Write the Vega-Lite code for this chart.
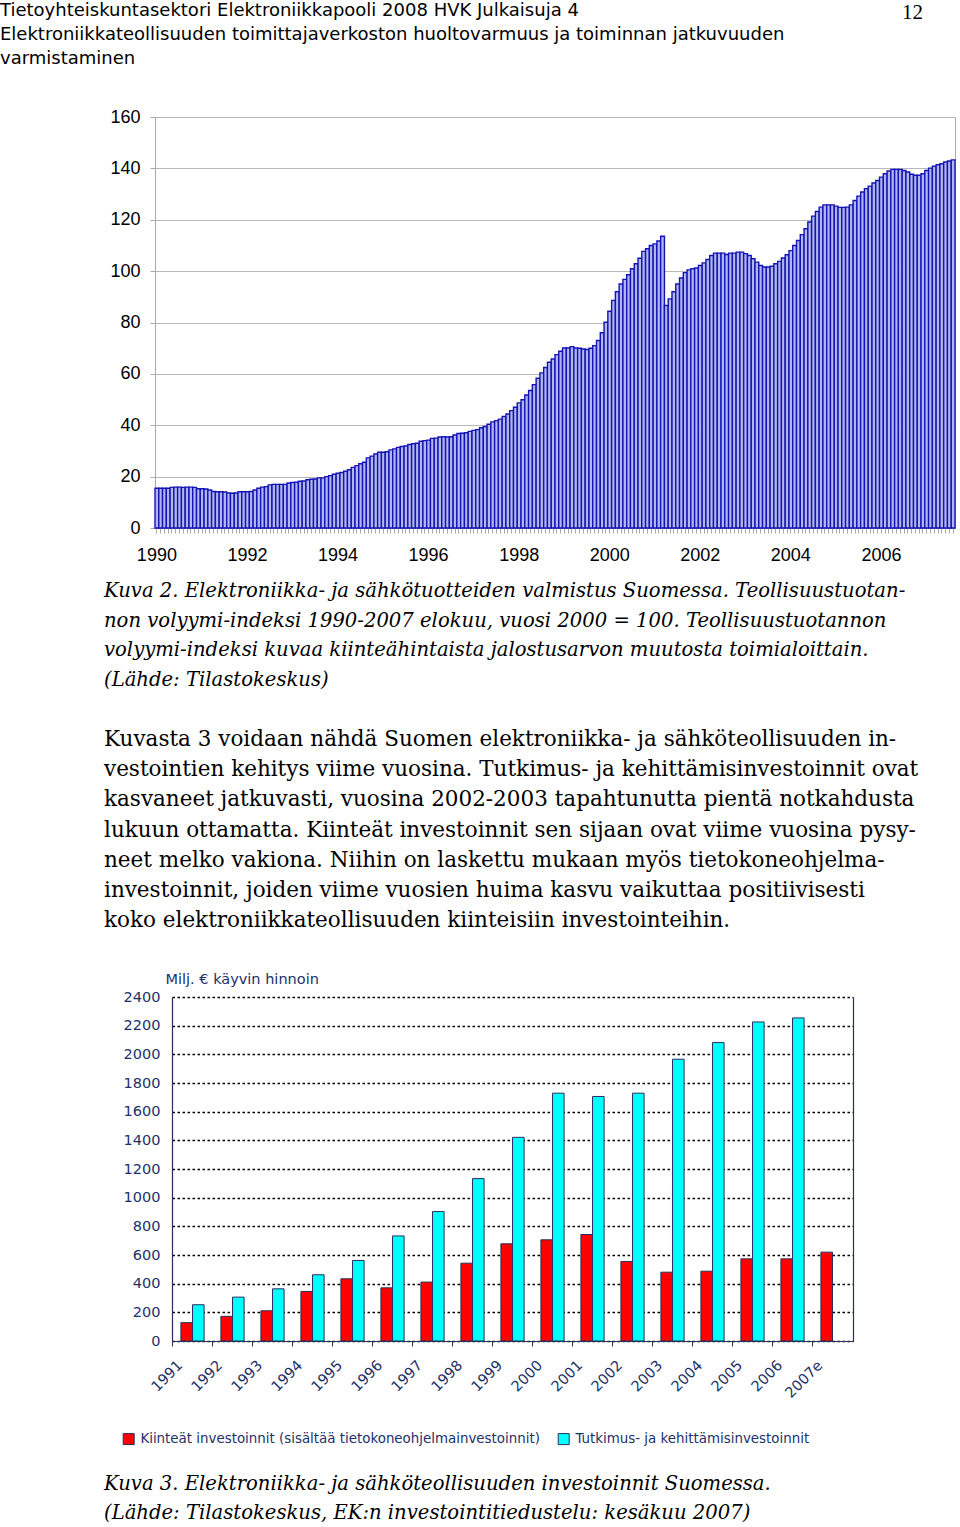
{
  "$schema": "https://vega.github.io/schema/vega-lite/v6.json",
  "padding": 0,
  "background": "white",
  "spacing": 38,
  "config": {"view": {"stroke": null}, "font": "Liberation Sans"},
  "resolve": {"legend": {"color": "independent"}, "scale": {"color": "independent"}},
  "datasets": {
    "indeksi": [
      {"kk":"1990-01","arvo":15.5},{"kk":"1990-02","arvo":15.5},{"kk":"1990-03","arvo":15.5},{"kk":"1990-04","arvo":15.5},{"kk":"1990-05","arvo":15.8},{"kk":"1990-06","arvo":15.9},{"kk":"1990-07","arvo":15.9},{"kk":"1990-08","arvo":15.8},{"kk":"1990-09","arvo":15.9},{"kk":"1990-10","arvo":15.9},{"kk":"1990-11","arvo":15.8},{"kk":"1990-12","arvo":15.3},
      {"kk":"1991-01","arvo":15.3},{"kk":"1991-02","arvo":15.2},{"kk":"1991-03","arvo":14.8},{"kk":"1991-04","arvo":14.2},{"kk":"1991-05","arvo":14.1},{"kk":"1991-06","arvo":14.1},{"kk":"1991-07","arvo":14.0},{"kk":"1991-08","arvo":13.6},{"kk":"1991-09","arvo":13.5},{"kk":"1991-10","arvo":13.6},{"kk":"1991-11","arvo":14.1},{"kk":"1991-12","arvo":14.1},
      {"kk":"1992-01","arvo":14.1},{"kk":"1992-02","arvo":14.2},{"kk":"1992-03","arvo":14.8},{"kk":"1992-04","arvo":15.5},{"kk":"1992-05","arvo":15.9},{"kk":"1992-06","arvo":16.1},{"kk":"1992-07","arvo":16.8},{"kk":"1992-08","arvo":17.0},{"kk":"1992-09","arvo":17.0},{"kk":"1992-10","arvo":17.0},{"kk":"1992-11","arvo":17.0},{"kk":"1992-12","arvo":17.5},
      {"kk":"1993-01","arvo":17.7},{"kk":"1993-02","arvo":17.8},{"kk":"1993-03","arvo":18.2},{"kk":"1993-04","arvo":18.3},{"kk":"1993-05","arvo":18.8},{"kk":"1993-06","arvo":19.0},{"kk":"1993-07","arvo":19.1},{"kk":"1993-08","arvo":19.5},{"kk":"1993-09","arvo":19.5},{"kk":"1993-10","arvo":20.0},{"kk":"1993-11","arvo":20.4},{"kk":"1993-12","arvo":20.9},
      {"kk":"1994-01","arvo":21.3},{"kk":"1994-02","arvo":21.6},{"kk":"1994-03","arvo":22.1},{"kk":"1994-04","arvo":22.7},{"kk":"1994-05","arvo":23.6},{"kk":"1994-06","arvo":24.3},{"kk":"1994-07","arvo":25.0},{"kk":"1994-08","arvo":25.6},{"kk":"1994-09","arvo":27.3},{"kk":"1994-10","arvo":28.0},{"kk":"1994-11","arvo":28.8},{"kk":"1994-12","arvo":29.5},
      {"kk":"1995-01","arvo":29.5},{"kk":"1995-02","arvo":29.7},{"kk":"1995-03","arvo":30.4},{"kk":"1995-04","arvo":30.8},{"kk":"1995-05","arvo":31.4},{"kk":"1995-06","arvo":31.7},{"kk":"1995-07","arvo":31.9},{"kk":"1995-08","arvo":32.5},{"kk":"1995-09","arvo":32.8},{"kk":"1995-10","arvo":33.0},{"kk":"1995-11","arvo":33.8},{"kk":"1995-12","arvo":34.0},
      {"kk":"1996-01","arvo":34.2},{"kk":"1996-02","arvo":34.9},{"kk":"1996-03","arvo":35.0},{"kk":"1996-04","arvo":35.4},{"kk":"1996-05","arvo":35.5},{"kk":"1996-06","arvo":35.4},{"kk":"1996-07","arvo":35.5},{"kk":"1996-08","arvo":36.2},{"kk":"1996-09","arvo":36.8},{"kk":"1996-10","arvo":36.9},{"kk":"1996-11","arvo":37.1},{"kk":"1996-12","arvo":37.6},
      {"kk":"1997-01","arvo":38.0},{"kk":"1997-02","arvo":38.3},{"kk":"1997-03","arvo":39.0},{"kk":"1997-04","arvo":39.5},{"kk":"1997-05","arvo":40.4},{"kk":"1997-06","arvo":41.3},{"kk":"1997-07","arvo":41.8},{"kk":"1997-08","arvo":42.4},{"kk":"1997-09","arvo":43.4},{"kk":"1997-10","arvo":44.4},{"kk":"1997-11","arvo":45.7},{"kk":"1997-12","arvo":47.0},
      {"kk":"1998-01","arvo":48.7},{"kk":"1998-02","arvo":49.9},{"kk":"1998-03","arvo":51.8},{"kk":"1998-04","arvo":53.5},{"kk":"1998-05","arvo":55.8},{"kk":"1998-06","arvo":58.3},{"kk":"1998-07","arvo":60.4},{"kk":"1998-08","arvo":62.5},{"kk":"1998-09","arvo":64.5},{"kk":"1998-10","arvo":65.8},{"kk":"1998-11","arvo":67.5},{"kk":"1998-12","arvo":68.8},
      {"kk":"1999-01","arvo":70.1},{"kk":"1999-02","arvo":70.1},{"kk":"1999-03","arvo":70.6},{"kk":"1999-04","arvo":70.1},{"kk":"1999-05","arvo":70.0},{"kk":"1999-06","arvo":69.7},{"kk":"1999-07","arvo":69.5},{"kk":"1999-08","arvo":70.0},{"kk":"1999-09","arvo":71.0},{"kk":"1999-10","arvo":73.0},{"kk":"1999-11","arvo":76.0},{"kk":"1999-12","arvo":80.1},
      {"kk":"2000-01","arvo":84.4},{"kk":"2000-02","arvo":88.6},{"kk":"2000-03","arvo":92.0},{"kk":"2000-04","arvo":95.0},{"kk":"2000-05","arvo":96.8},{"kk":"2000-06","arvo":98.6},{"kk":"2000-07","arvo":100.9},{"kk":"2000-08","arvo":102.9},{"kk":"2000-09","arvo":105.0},{"kk":"2000-10","arvo":107.7},{"kk":"2000-11","arvo":108.7},{"kk":"2000-12","arvo":110.0},
      {"kk":"2001-01","arvo":110.6},{"kk":"2001-02","arvo":111.7},{"kk":"2001-03","arvo":113.6},{"kk":"2001-04","arvo":86.6},{"kk":"2001-05","arvo":89.2},{"kk":"2001-06","arvo":92.0},{"kk":"2001-07","arvo":95.0},{"kk":"2001-08","arvo":97.3},{"kk":"2001-09","arvo":99.4},{"kk":"2001-10","arvo":100.5},{"kk":"2001-11","arvo":100.9},{"kk":"2001-12","arvo":101.2},
      {"kk":"2002-01","arvo":102.2},{"kk":"2002-02","arvo":103.2},{"kk":"2002-03","arvo":104.5},{"kk":"2002-04","arvo":106.1},{"kk":"2002-05","arvo":107.0},{"kk":"2002-06","arvo":107.0},{"kk":"2002-07","arvo":107.0},{"kk":"2002-08","arvo":106.5},{"kk":"2002-09","arvo":107.0},{"kk":"2002-10","arvo":107.0},{"kk":"2002-11","arvo":107.4},{"kk":"2002-12","arvo":107.4},
      {"kk":"2003-01","arvo":106.8},{"kk":"2003-02","arvo":106.1},{"kk":"2003-03","arvo":104.8},{"kk":"2003-04","arvo":103.5},{"kk":"2003-05","arvo":102.2},{"kk":"2003-06","arvo":101.6},{"kk":"2003-07","arvo":101.6},{"kk":"2003-08","arvo":101.9},{"kk":"2003-09","arvo":102.9},{"kk":"2003-10","arvo":103.8},{"kk":"2003-11","arvo":105.1},{"kk":"2003-12","arvo":106.4},
      {"kk":"2004-01","arvo":108.0},{"kk":"2004-02","arvo":110.0},{"kk":"2004-03","arvo":111.9},{"kk":"2004-04","arvo":114.2},{"kk":"2004-05","arvo":116.5},{"kk":"2004-06","arvo":119.1},{"kk":"2004-07","arvo":121.4},{"kk":"2004-08","arvo":123.2},{"kk":"2004-09","arvo":124.9},{"kk":"2004-10","arvo":125.8},{"kk":"2004-11","arvo":125.8},{"kk":"2004-12","arvo":125.8},
      {"kk":"2005-01","arvo":125.3},{"kk":"2005-02","arvo":124.8},{"kk":"2005-03","arvo":124.8},{"kk":"2005-04","arvo":124.9},{"kk":"2005-05","arvo":125.8},{"kk":"2005-06","arvo":127.5},{"kk":"2005-07","arvo":129.2},{"kk":"2005-08","arvo":130.8},{"kk":"2005-09","arvo":132.1},{"kk":"2005-10","arvo":133.1},{"kk":"2005-11","arvo":134.3},{"kk":"2005-12","arvo":135.3},
      {"kk":"2006-01","arvo":136.6},{"kk":"2006-02","arvo":137.9},{"kk":"2006-03","arvo":139.0},{"kk":"2006-04","arvo":139.6},{"kk":"2006-05","arvo":139.6},{"kk":"2006-06","arvo":139.6},{"kk":"2006-07","arvo":139.2},{"kk":"2006-08","arvo":138.6},{"kk":"2006-09","arvo":137.7},{"kk":"2006-10","arvo":137.3},{"kk":"2006-11","arvo":137.3},{"kk":"2006-12","arvo":137.9},
      {"kk":"2007-01","arvo":139.2},{"kk":"2007-02","arvo":140.1},{"kk":"2007-03","arvo":140.8},{"kk":"2007-04","arvo":141.4},{"kk":"2007-05","arvo":141.8},{"kk":"2007-06","arvo":142.5},{"kk":"2007-07","arvo":142.9},{"kk":"2007-08","arvo":143.3}
    ],
    "investoinnit": [
      {"vuosi":"1991","sarja":"Kiinteät investoinnit (sisältää tietokoneohjelmainvestoinnit)","arvo":128},
      {"vuosi":"1992","sarja":"Kiinteät investoinnit (sisältää tietokoneohjelmainvestoinnit)","arvo":172},
      {"vuosi":"1993","sarja":"Kiinteät investoinnit (sisältää tietokoneohjelmainvestoinnit)","arvo":211},
      {"vuosi":"1994","sarja":"Kiinteät investoinnit (sisältää tietokoneohjelmainvestoinnit)","arvo":346},
      {"vuosi":"1995","sarja":"Kiinteät investoinnit (sisältää tietokoneohjelmainvestoinnit)","arvo":434},
      {"vuosi":"1996","sarja":"Kiinteät investoinnit (sisältää tietokoneohjelmainvestoinnit)","arvo":371},
      {"vuosi":"1997","sarja":"Kiinteät investoinnit (sisältää tietokoneohjelmainvestoinnit)","arvo":411},
      {"vuosi":"1998","sarja":"Kiinteät investoinnit (sisältää tietokoneohjelmainvestoinnit)","arvo":543},
      {"vuosi":"1999","sarja":"Kiinteät investoinnit (sisältää tietokoneohjelmainvestoinnit)","arvo":678},
      {"vuosi":"2000","sarja":"Kiinteät investoinnit (sisältää tietokoneohjelmainvestoinnit)","arvo":706},
      {"vuosi":"2001","sarja":"Kiinteät investoinnit (sisältää tietokoneohjelmainvestoinnit)","arvo":743},
      {"vuosi":"2002","sarja":"Kiinteät investoinnit (sisältää tietokoneohjelmainvestoinnit)","arvo":555},
      {"vuosi":"2003","sarja":"Kiinteät investoinnit (sisältää tietokoneohjelmainvestoinnit)","arvo":480},
      {"vuosi":"2004","sarja":"Kiinteät investoinnit (sisältää tietokoneohjelmainvestoinnit)","arvo":487},
      {"vuosi":"2005","sarja":"Kiinteät investoinnit (sisältää tietokoneohjelmainvestoinnit)","arvo":573},
      {"vuosi":"2006","sarja":"Kiinteät investoinnit (sisältää tietokoneohjelmainvestoinnit)","arvo":573},
      {"vuosi":"2007e","sarja":"Kiinteät investoinnit (sisältää tietokoneohjelmainvestoinnit)","arvo":620},
      {"vuosi":"1991","sarja":"Tutkimus- ja kehittämisinvestoinnit","arvo":253},
      {"vuosi":"1992","sarja":"Tutkimus- ja kehittämisinvestoinnit","arvo":306},
      {"vuosi":"1993","sarja":"Tutkimus- ja kehittämisinvestoinnit","arvo":364},
      {"vuosi":"1994","sarja":"Tutkimus- ja kehittämisinvestoinnit","arvo":462},
      {"vuosi":"1995","sarja":"Tutkimus- ja kehittämisinvestoinnit","arvo":562},
      {"vuosi":"1996","sarja":"Tutkimus- ja kehittämisinvestoinnit","arvo":733},
      {"vuosi":"1997","sarja":"Tutkimus- ja kehittämisinvestoinnit","arvo":903},
      {"vuosi":"1998","sarja":"Tutkimus- ja kehittämisinvestoinnit","arvo":1133},
      {"vuosi":"1999","sarja":"Tutkimus- ja kehittämisinvestoinnit","arvo":1421},
      {"vuosi":"2000","sarja":"Tutkimus- ja kehittämisinvestoinnit","arvo":1729},
      {"vuosi":"2001","sarja":"Tutkimus- ja kehittämisinvestoinnit","arvo":1706},
      {"vuosi":"2002","sarja":"Tutkimus- ja kehittämisinvestoinnit","arvo":1729},
      {"vuosi":"2003","sarja":"Tutkimus- ja kehittämisinvestoinnit","arvo":1966},
      {"vuosi":"2004","sarja":"Tutkimus- ja kehittämisinvestoinnit","arvo":2082},
      {"vuosi":"2005","sarja":"Tutkimus- ja kehittämisinvestoinnit","arvo":2226},
      {"vuosi":"2006","sarja":"Tutkimus- ja kehittämisinvestoinnit","arvo":2254}
    ]
  },
  "vconcat": [
    {
      "width": 768,
      "height": 69,
      "data": {"values": [{"sivu": "12"}]},
      "title": {
        "text": ["Tietoyhteiskuntasektori Elektroniikkapooli 2008 HVK Julkaisuja 4", "Elektroniikkateollisuuden toimittajaverkoston huoltovarmuus ja toiminnan jatkuvuuden", "varmistaminen"],
        "orient": "top", "anchor": "start", "frame": "group", "baseline": "top", "offset": -68, "dx": -155,
        "font": "DejaVu Sans", "fontSize": 18, "fontWeight": "normal", "lineHeight": 24, "color": "#000000"
      },
      "mark": {"type": "text", "align": "right", "baseline": "middle", "font": "Liberation Serif", "fontSize": 21, "color": "#000000"},
      "encoding": {
        "text": {"field": "sivu"},
        "x": {"datum": 1, "type": "quantitative", "scale": {"domain": [0, 1]}, "axis": null},
        "y": {"datum": 0.81, "type": "quantitative", "scale": {"domain": [0, 1]}, "axis": null}
      }
    },
    {
      "width": 800,
      "height": 411,
      "data": {"name": "indeksi"},
      "view": {"stroke": "#a8a8a8", "strokeWidth": 1},
      "title": {
        "text": ["Kuva 2. Elektroniikka- ja sähkötuotteiden valmistus Suomessa. Teollisuustuotan-", "non volyymi-indeksi 1990-2007 elokuu, vuosi 2000 = 100. Teollisuustuotannon", "volyymi-indeksi kuvaa kiinteähintaista jalostusarvon muutosta toimialoittain.", "(Lähde: Tilastokeskus)"],
        "subtitle": ["Kuvasta 3 voidaan nähdä Suomen elektroniikka- ja sähköteollisuuden in-", "vestointien kehitys viime vuosina. Tutkimus- ja kehittämisinvestoinnit ovat", "kasvaneet jatkuvasti, vuosina 2002-2003 tapahtunutta pientä notkahdusta", "lukuun ottamatta. Kiinteät investoinnit sen sijaan ovat viime vuosina pysy-", "neet melko vakiona. Niihin on laskettu mukaan myös tietokoneohjelma-", "investoinnit, joiden viime vuosien huima kasvu vaikuttaa positiivisesti", "koko elektroniikkateollisuuden kiinteisiin investointeihin."],
        "orient": "bottom", "anchor": "start", "frame": "group", "baseline": "top", "offset": 18, "dx": -51,
        "font": "DejaVu Serif", "fontSize": 19.6, "fontStyle": "italic", "fontWeight": "normal", "lineHeight": 29.7, "color": "#000000",
        "subtitleFont": "DejaVu Serif", "subtitleFontSize": 21.5, "subtitleFontStyle": "normal", "subtitleFontWeight": "normal", "subtitleLineHeight": 30.3, "subtitlePadding": 38, "subtitleColor": "#000000"
      },
      "mark": {"type": "bar", "fill": "#b2b6ee", "stroke": "#1414b4", "strokeWidth": 1.4},
      "encoding": {
        "x": {
          "field": "kk", "type": "ordinal",
          "scale": {"paddingInner": 0, "paddingOuter": 0},
          "axis": {
            "title": null, "labelAngle": 0, "labelOverlap": false,
            "labelExpr": "(substring(datum.value,5,7)=='01' && toNumber(substring(datum.value,0,4))%2==0) ? substring(datum.value,0,4) : ''",
            "labelFont": "Liberation Sans", "labelFontSize": 18, "labelColor": "#000000", "labelPadding": 13, "labelBaseline": "top",
            "tickColor": "#a8a8a8", "tickSize": 5, "domainColor": "#a8a8a8"
          }
        },
        "y": {
          "field": "arvo", "type": "quantitative",
          "scale": {"domain": [0, 160]},
          "axis": {
            "title": null, "values": [0, 20, 40, 60, 80, 100, 120, 140, 160],
            "grid": true, "gridColor": "#b8b8b8", "gridWidth": 1,
            "labelFont": "Liberation Sans", "labelFontSize": 18, "labelColor": "#000000", "labelPadding": 10,
            "tickColor": "#a8a8a8", "tickSize": 5, "domainColor": "#a8a8a8"
          }
        }
      }
    },
    {
      "bounds": "flush",
      "spacing": 0,
      "resolve": {"legend": {"color": "independent"}, "scale": {"color": "independent"}},
      "hconcat": [
        {
          "width": 17,
          "height": 344,
          "data": {"values": []},
          "mark": "point"
        },
        {
          "width": 681,
          "height": 344,
          "title": {
            "text": ["Kuva 3. Elektroniikka- ja sähköteollisuuden investoinnit Suomessa.", "(Lähde: Tilastokeskus, EK:n investointitiedustelu: kesäkuu 2007)"],
            "orient": "bottom", "anchor": "start", "frame": "group", "baseline": "top", "offset": 28, "dx": -68,
            "font": "DejaVu Serif", "fontSize": 19.6, "fontStyle": "italic", "fontWeight": "normal", "lineHeight": 29, "color": "#000000"
          },
          "layer": [
            {
              "data": {"name": "investoinnit"},
              "mark": {"type": "bar", "stroke": "#27305c", "strokeWidth": 1},
              "encoding": {
                "x": {
                  "field": "vuosi", "type": "nominal",
                  "scale": {"paddingInner": 0.42, "paddingOuter": 0.2225},
                  "axis": {
                    "title": null, "labelAngle": -45, "labelAlign": "right", "labelBaseline": "middle",
                    "bandPosition": -0.362, "labelOffset": -12,
                    "labelFont": "DejaVu Sans", "labelFontSize": 14.5, "labelColor": "#22306a", "labelPadding": 17,
                    "tickColor": "#27305c", "tickSize": 5, "domainColor": "#27305c", "domainWidth": 1.2
                  }
                },
                "xOffset": {
                  "field": "sarja", "type": "nominal",
                  "scale": {"domain": ["Kiinteät investoinnit (sisältää tietokoneohjelmainvestoinnit)", "Tutkimus- ja kehittämisinvestoinnit"]}
                },
                "y": {
                  "field": "arvo", "type": "quantitative",
                  "scale": {"domain": [0, 2400]},
                  "axis": {
                    "title": "Milj. € käyvin hinnoin", "titleAngle": 0, "titleAlign": "left", "titleBaseline": "middle",
                    "titleX": -7, "titleY": -18, "titleFont": "DejaVu Sans", "titleFontSize": 14.5, "titleFontWeight": "normal", "titleColor": "#22306a",
                    "values": [0, 200, 400, 600, 800, 1000, 1200, 1400, 1600, 1800, 2000, 2200, 2400], "format": "d",
                    "grid": true, "gridColor": "#000000", "gridDash": [2.5, 2.5], "gridWidth": 1.5,
                    "ticks": false, "labelPadding": 12,
                    "labelFont": "DejaVu Sans", "labelFontSize": 14.5, "labelColor": "#22306a",
                    "domainColor": "#27305c", "domainWidth": 1.2
                  }
                },
                "color": {
                  "field": "sarja", "type": "nominal",
                  "scale": {"domain": ["Kiinteät investoinnit (sisältää tietokoneohjelmainvestoinnit)", "Tutkimus- ja kehittämisinvestoinnit"], "range": ["#ff0000", "#00ffff"]},
                  "legend": {
                    "title": null, "orient": "none", "legendX": -50, "legendY": 435, "direction": "horizontal",
                    "symbolType": "square", "symbolSize": 121, "symbolStrokeColor": "#27305c", "symbolStrokeWidth": 1,
                    "labelFont": "DejaVu Sans", "labelFontSize": 13.4, "labelColor": "#22306a", "labelLimit": 600,
                    "labelOffset": 5, "columnPadding": 16
                  }
                }
              }
            },
            {
              "data": {"values": []},
              "mark": {"type": "point"},
              "encoding": {
                "y": {
                  "field": "arvo", "type": "quantitative",
                  "scale": {"domain": [0, 2400]},
                  "axis": {"orient": "right", "title": null, "labels": false, "ticks": false, "grid": false, "domainColor": "#27305c", "domainWidth": 1.2}
                }
              }
            }
          ],
          "resolve": {"axis": {"y": "independent"}}
        }
      ]
    }
  ]
}
